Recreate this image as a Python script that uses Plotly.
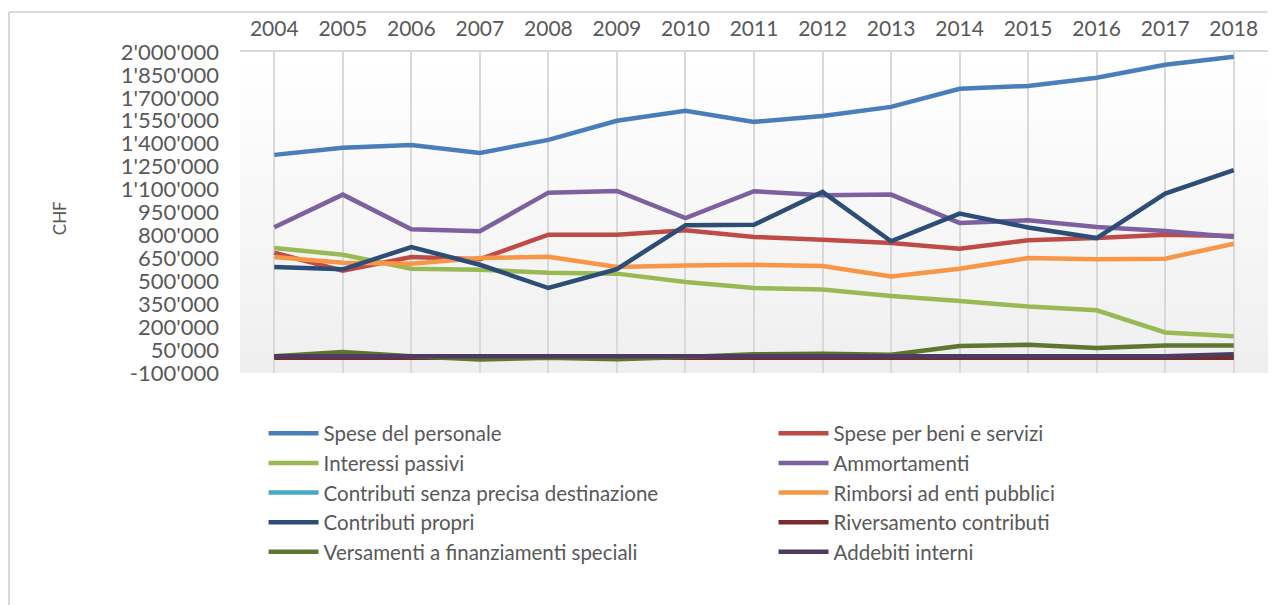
import plotly.graph_objects as go

years = [str(y) for y in range(2004, 2019)]

spese_personale = [1327000, 1373000, 1392000, 1340000, 1425000, 1550000, 1615000, 1543000,
                   1582000, 1641000, 1759000, 1778000, 1831000, 1916000, 1969000]
spese_beni_servizi = [687000, 569000, 659000, 644000, 805000, 805000, 834000, 790000,
                      772000, 751000, 713000, 768000, 783000, 805000, 796000]
interessi_passivi = [718000, 674000, 582000, 576000, 556000, 550000, 495000, 456000,
                     447000, 403000, 371000, 335000, 310000, 165000, 141000]
ammortamenti = [854000, 1067000, 840000, 827000, 1080000, 1091000, 914000, 1089000,
                1063000, 1067000, 882000, 899000, 855000, 829000, 789000]
contributi_senza_destinazione = [0, 0, 0, 0, 0, 0, 0, 0, 0, 0, 0, 0, 0, 0, 0]
rimborsi_enti_pubblici = [659000, 622000, 615000, 652000, 661000, 593000, 604000, 608000,
                          600000, 532000, 582000, 652000, 644000, 648000, 746000]
contributi_propri = [593000, 578000, 724000, 608000, 456000, 580000, 866000, 870000,
                     1085000, 762000, 943000, 852000, 783000, 1074000, 1227000]
riversamento_contributi = [0, 0, 0, 0, 0, 0, 0, 0, 0, 0, 0, 0, 0, 0, 0]
versamenti_finanziamenti = [10000, 37000, 10000, -11000, 0, -10000, 4000, 22000,
                            26000, 19000, 76000, 85000, 63000, 80000, 80000]
addebiti_interni = [10000, 10000, 10000, 10000, 10000, 10000, 10000, 10000,
                    10000, 10000, 10000, 10000, 10000, 10000, 22000]

y_tickvals = [-100000, 50000, 200000, 350000, 500000, 650000, 800000, 950000,
              1100000, 1250000, 1400000, 1550000, 1700000, 1850000, 2000000]
y_ticktext = ["-100'000", "50'000", "200'000", "350'000", "500'000", "650'000", "800'000",
              "950'000", "1'100'000", "1'250'000", "1'400'000", "1'550'000", "1'700'000",
              "1'850'000", "2'000'000"]

# (name, values, colour, legend column)
series = [
    ("Spese del personale", spese_personale, "#4a7ebb", "legend"),
    ("Spese per beni e servizi", spese_beni_servizi, "#be4b48", "legend2"),
    ("Interessi passivi", interessi_passivi, "#98b954", "legend"),
    ("Ammortamenti", ammortamenti, "#7d60a0", "legend2"),
    ("Contributi senza precisa destinazione", contributi_senza_destinazione, "#46aac5", "legend"),
    ("Rimborsi ad enti pubblici", rimborsi_enti_pubblici, "#f79646", "legend2"),
    ("Contributi propri", contributi_propri, "#2c4d75", "legend"),
    ("Riversamento contributi", riversamento_contributi, "#772c2a", "legend2"),
    ("Versamenti a finanziamenti speciali", versamenti_finanziamenti, "#5f7530", "legend"),
    ("Addebiti interni", addebiti_interni, "#4d3b62", "legend2"),
]

TEXT = "#595959"
FONT = "Lato"

fig = go.Figure()
for name, values, color, leg in series:
    fig.add_trace(go.Scatter(
        x=years, y=values, name=name, mode="lines",
        line=dict(color=color, width=4.5), legend=leg,
    ))

# vertical gradient behind the plot area (white -> light grey)
bands = 40
for i in range(bands):
    g = round(255 - (255 - 239) * i / (bands - 1))
    fig.add_shape(
        type="rect", xref="x domain", yref="y domain",
        x0=0, x1=1, y0=1 - (i + 1) / bands, y1=1 - i / bands,
        fillcolor=f"rgb({g},{g},{g})", line=dict(width=0), layer="below",
    )

# outer chart frame (left and top edges)
fig.add_shape(type="line", xref="paper", yref="paper",
              x0=-0.2247, x1=-0.2247, y0=-0.76, y1=1.1246,
              line=dict(color="#d9d9d9", width=2))
fig.add_shape(type="line", xref="paper", yref="paper",
              x0=-0.2247, x1=0.9996, y0=1.1246, y1=1.1246,
              line=dict(color="#d9d9d9", width=2))

fig.add_annotation(
    text="CHF", xref="paper", yref="paper", x=-0.187, y=0.483,
    textangle=-90, showarrow=False, font=dict(family=FONT, size=17, color=TEXT),
)

legend_style = dict(
    orientation="v", yanchor="top", xanchor="left", y=-0.126,
    font=dict(family=FONT, size=20.5, color=TEXT),
    itemwidth=50, traceorder="normal", bgcolor="rgba(0,0,0,0)",
)

# the page adds an 8px body margin, so the margins are shifted to compensate
fig.update_layout(
    width=1282,
    height=605,
    autosize=False,
    margin=dict(l=232, r=22, t=44, b=240),
    paper_bgcolor="white",
    plot_bgcolor="white",
    font=dict(family=FONT, size=21, color=TEXT),
    showlegend=True,
    legend=dict(x=0.0229, **legend_style),
    legend2=dict(x=0.519, **legend_style),
)
fig.update_xaxes(
    type="category",
    side="top",
    range=[-0.5, 14.5],
    automargin=False,
    showgrid=True, gridcolor="#d9d9d9", gridwidth=1.5,
    showline=True, linecolor="#d9d9d9", linewidth=2,
    ticks="", ticklabelstandoff=6,
    tickfont=dict(family=FONT, size=21, color=TEXT),
)
fig.update_yaxes(
    range=[-100000, 2000000],
    automargin=False,
    tickvals=y_tickvals, ticktext=y_ticktext,
    showgrid=False, zeroline=False, showline=False,
    ticks="", ticklabelstandoff=20,
    tickfont=dict(family=FONT, size=22, color=TEXT),
)

fig.write_html("out.html")
